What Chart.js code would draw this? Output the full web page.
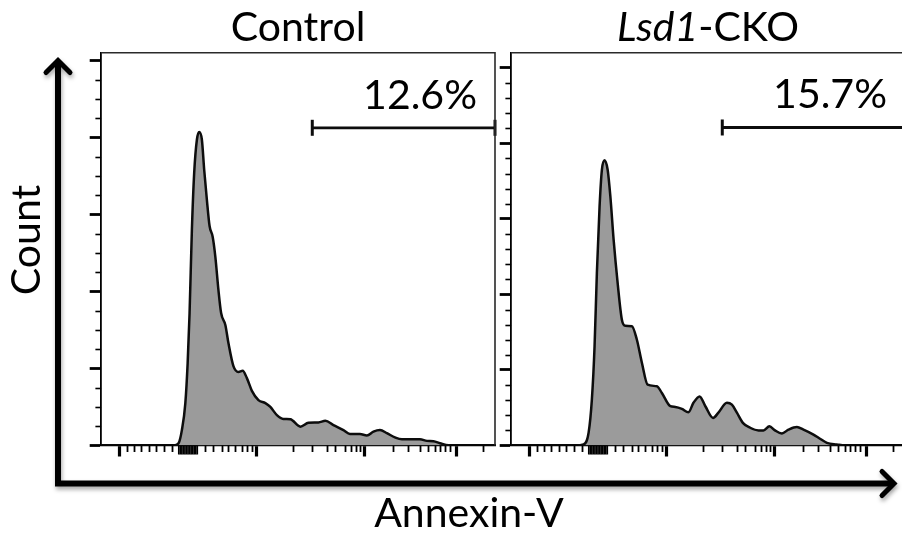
<!DOCTYPE html>
<html>
<head>
<meta charset="utf-8">
<script src="https://cdn.jsdelivr.net/npm/chart.js@4.4.1/dist/chart.umd.min.js"></script>
<style>
  html, body { margin:0; padding:0; background:#ffffff; width:902px; height:535px; overflow:hidden; }
  canvas { position:absolute; top:0; }
  #frame { left:0; z-index:0; width:902px; height:535px; }
  #ctrl  { left:70px; z-index:1; width:440px; height:470px; }
  #cko   { left:480px; z-index:2; width:440px; height:470px; }
</style>
</head>
<body>
<canvas id="frame" width="902" height="535"></canvas>
<canvas id="ctrl" width="440" height="470"></canvas>
<canvas id="cko" width="440" height="470"></canvas>
<script>
// ---------------- data ----------------
const panelTitles = ['Control', 'Lsd1-CKO'];
const ckoTitleParts = ['Lsd1', '-CKO'];          // first part italic
const axisTitleX = 'Annexin-V';
const axisTitleY = 'Count';
const gatePercents = ['12.6%', '15.7%'];

// Annexin-V channel (display scale 0-1024) and count values
const controlX = [0,180,193,201.5,210,219,225,230,236,242,249,255,262,268,275,282,290,297,305,312,323,331,344,357,368,379,392,409,427,440,457,474,492,518,539,565,583,604,630,647,673,691,708,725,743,764,782,829,847,864,881,903,920,1024];
const controlY = [0,0,0.1,0.6,4.0,11.0,21.4,34.4,56,70.8,79.4,81.4,79.4,71.6,63.8,57,54.2,49,40.4,34.4,31.3,26.6,20.6,19.1,19.4,17.5,14.2,11.8,11,10,7.9,6.9,6.8,4.9,5.9,6,6.4,5.3,4,3,3,2.6,3.6,4,3.2,2.1,1.6,1.6,1.2,1.1,0.6,0.05,0,0];

const ckoX = [0,167,188.5,201.5,210,217,223,230,236,243,251,258,266.5,277,288,297,314,327,340,355,379,392,414,427,444,461,474,490,505,525,539,561,574,587,602.5,621.5,643,656,671.6,686,704,721,743,760,786,803,821,847,868,1024];
const ckoY = [0,0,0.26,3.4,12.2,26.3,45.7,63.3,73,75.5,73,66,54.5,43,33.3,31.7,31.6,28,21.9,16.1,15.7,13.9,10.4,10.2,9.7,8.8,11.3,13,10.4,7.3,8.7,11.3,10.8,8.7,6,4.7,4,4,5.1,4,3.2,4.2,4.9,4.2,2.9,1.8,0.7,0.26,0,0];

// gate (marker bar) range and level for each panel
const gateRange = [549, 1024];
const gateLevel = [82.5, 84.2];

// axis ranges and ticks
const xRange = [0, 1024];
const yMaxes = [102, 104];
const xMajorTicks = [48, 405, 686, 923];
const xMinorTicks = [67,85,105,125,144,164,184,271,292,314,331,349,366,379,392,500,549,587,608,634,650,663,673,760,799,829,851,868,881,894,907,994];
const xZeroTicks = [202,206,210,214,218,222,226,230,234,238,242,246,250];
const yMajorTicks = [0,20,40,60,80,100];
const yMinorTicks = [
  [5,10,15,25,30,35,45,50,55,65,70,75,85,90,95],
  [4,8,12,16,24,28,32,36,44,48,52,56,64,68,72,76,84,88,92,96]
];

// ---------------- styling ----------------
const FONT = 'Lato, "Open Sans", sans-serif';
const FONT_SIZE = 41;
const pts = (xs, ys) => xs.map((x, i) => ({ x: x, y: ys[i] }));

function seg(ctx, x1, y1, x2, y2) { ctx.beginPath(); ctx.moveTo(x1, y1); ctx.lineTo(x2, y2); ctx.stroke(); }

function panelDecor(idx, drawCustomTitle) {
  return {
    id: 'panelDecor' + idx,
    afterDraw(chart) {
      const { ctx, chartArea: a } = chart;
      const x = chart.scales.x, y = chart.scales.y;
      ctx.save();
      // top and right frame of the panel
      ctx.strokeStyle = '#2a2a2a'; ctx.lineWidth = 1.6;
      ctx.beginPath(); ctx.moveTo(a.left, a.top); ctx.lineTo(a.right, a.top); ctx.lineTo(a.right, a.bottom); ctx.stroke();
      // minor x ticks
      ctx.strokeStyle = '#000';
      ctx.lineWidth = 1.8;
      xMinorTicks.forEach(v => { const p = Math.round(x.getPixelForValue(v)) + 0.5; seg(ctx, p, a.bottom, p, a.bottom + 6.5); });
      ctx.lineWidth = 1.7;
      xZeroTicks.forEach(v => { const p = x.getPixelForValue(v); seg(ctx, p, a.bottom, p, a.bottom + 9); });
      // minor y ticks
      ctx.lineWidth = 1.6;
      yMinorTicks[idx].forEach(v => { const p = Math.round(y.getPixelForValue(v)) + 0.5; seg(ctx, a.left - 5.7, p, a.left, p); });
      // gate percentage
      ctx.fillStyle = '#000';
      ctx.font = FONT_SIZE + 'px ' + FONT;
      ctx.textAlign = 'right'; ctx.textBaseline = 'alphabetic';
      ctx.fillText(gatePercents[idx], x.getPixelForValue(gateRange[1]) - 18, y.getPixelForValue(gateLevel[idx]) - 19);
      // mixed-style title
      if (drawCustomTitle) {
        const fItal = 'italic ' + FONT_SIZE + 'px ' + FONT;
        const fNorm = FONT_SIZE + 'px ' + FONT;
        ctx.font = fItal; const w1 = ctx.measureText(ckoTitleParts[0]).width;
        ctx.font = fNorm; const w2 = ctx.measureText(ckoTitleParts[1]).width;
        const cx = (a.left + a.right) / 2;
        const start = cx - (w1 + w2) / 2;
        ctx.textAlign = 'left'; ctx.textBaseline = 'middle';
        ctx.font = fItal; ctx.fillText(ckoTitleParts[0], start, 27.5);
        ctx.font = fNorm; ctx.fillText(ckoTitleParts[1], start + w1, 27.5);
      }
      ctx.restore();
    }
  };
}

function makePanel(canvasId, xs, ys, idx, nativeTitle) {
  return new Chart(document.getElementById(canvasId), {
    type: 'line',
    data: {
      datasets: [
        {
          label: panelTitles[idx],
          data: pts(xs, ys),
          fill: 'origin',
          backgroundColor: '#9b9b9b',
          borderColor: '#0d0d0d',
          borderWidth: 2.5,
          pointRadius: 0,
          cubicInterpolationMode: 'monotone',
          order: 2
        },
        {
          label: 'gate',
          data: [{ x: gateRange[0], y: gateLevel[idx] }, { x: gateRange[1], y: gateLevel[idx] }],
          borderColor: '#0d0d0d',
          borderWidth: 2.8,
          fill: false,
          pointStyle: 'line',
          rotation: 90,
          pointRadius: 8,
          pointBorderWidth: 3,
          pointBorderColor: '#0d0d0d',
          clip: false,
          order: 1
        }
      ]
    },
    options: {
      responsive: false,
      animation: false,
      devicePixelRatio: 1,
      events: [],
      layout: { padding: { left: 19.7, right: 15, top: nativeTitle ? 0 : 52.7, bottom: 13.5 } },
      plugins: {
        legend: { display: false },
        tooltip: { enabled: false },
        title: {
          display: nativeTitle,
          fullSize: false,
          text: panelTitles[idx],
          color: '#000',
          font: { family: FONT, size: FONT_SIZE, weight: 'normal', lineHeight: 1 },
          padding: { top: 7, bottom: 4.7 }
        }
      },
      scales: {
        x: {
          type: 'linear', min: xRange[0], max: xRange[1], z: 1,
          afterBuildTicks: s => { s.ticks = xMajorTicks.map(v => ({ value: v })); },
          grid: { display: true, drawOnChartArea: false, drawTicks: true, tickLength: 11, tickWidth: 3.2, tickColor: '#000' },
          border: { display: true, color: '#000', width: 2.2 },
          ticks: { display: false }
        },
        y: {
          type: 'linear', min: 0, max: yMaxes[idx], z: 1,
          afterBuildTicks: s => { s.ticks = yMajorTicks.map(v => ({ value: v })); },
          grid: { display: true, drawOnChartArea: false, drawTicks: true, tickLength: 11.4, tickWidth: 2.8, tickColor: '#000' },
          border: { display: true, color: '#000', width: 1.8 },
          ticks: { display: false }
        }
      }
    },
    plugins: [panelDecor(idx, !nativeTitle)]
  });
}

// ---------------- outer frame with big axis arrows ----------------
const arrowPlugin = {
  id: 'bigArrows',
  afterDraw(chart) {
    const { ctx, chartArea: a } = chart;
    const axisY = a.bottom + 60.5;
    const tipX = a.right + 14;
    ctx.save();
    ctx.shadowColor = 'rgba(0,0,0,0.35)';
    ctx.shadowBlur = 4; ctx.shadowOffsetX = 1; ctx.shadowOffsetY = 3;
    ctx.strokeStyle = '#000';
    ctx.lineWidth = 6; ctx.lineJoin = 'miter'; ctx.lineCap = 'butt';
    ctx.beginPath();
    ctx.moveTo(a.left, a.top + 4);
    ctx.lineTo(a.left, axisY);
    ctx.lineTo(tipX - 3, axisY);
    ctx.stroke();
    ctx.lineWidth = 5; ctx.lineCap = 'round';
    ctx.beginPath();
    ctx.moveTo(a.left - 12, a.top + 15.5); ctx.lineTo(a.left, a.top + 3.5); ctx.lineTo(a.left + 12, a.top + 15.5);
    ctx.stroke();
    ctx.beginPath();
    ctx.moveTo(tipX - 12, axisY - 12); ctx.lineTo(tipX, axisY); ctx.lineTo(tipX - 12, axisY + 12);
    ctx.stroke();
    ctx.restore();
  }
};

new Chart(document.getElementById('frame'), {
  type: 'scatter',
  data: { datasets: [] },
  options: {
    responsive: false,
    animation: false,
    devicePixelRatio: 1,
    events: [],
    layout: { padding: { left: 0, right: 22, top: 57, bottom: 0 } },
    plugins: { legend: { display: false }, tooltip: { enabled: false } },
    scales: {
      x: {
        type: 'linear', min: 0, max: 1,
        grid: { display: false, drawTicks: false },
        border: { display: false },
        ticks: { display: false },
        title: { display: true, text: axisTitleX, color: '#000',
                 font: { family: FONT, size: FONT_SIZE, weight: 'normal', lineHeight: 1 },
                 padding: { top: 70, bottom: 1 } }
      },
      y: {
        type: 'linear', min: 0, max: 1,
        grid: { display: false, drawTicks: false },
        border: { display: false },
        ticks: { display: false },
        title: { display: true, text: axisTitleY, color: '#000',
                 font: { family: FONT, size: FONT_SIZE, weight: 'normal', lineHeight: 1 },
                 padding: { top: 6.6, bottom: 10.4 } }
      }
    }
  },
  plugins: [arrowPlugin]
});

makePanel('ctrl', controlX, controlY, 0, true);
makePanel('cko', ckoX, ckoY, 1, false);
</script>
</body>
</html>
